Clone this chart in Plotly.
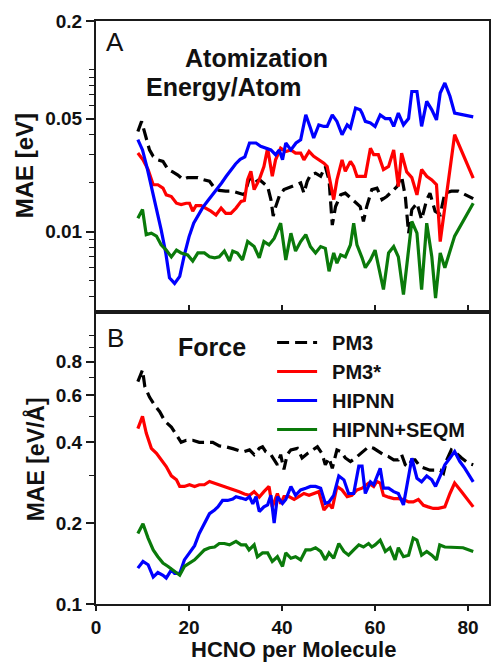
import plotly.graph_objects as go

# ---------------- data: panel A (Atomization energy / atom, eV) ----------------
a_pm3_x = [9, 9.8, 10.8, 11.5, 12.3, 13.3, 14.4, 15.5, 16.5, 17.6, 18.7, 19.7, 20.8, 21.9, 23, 24.4, 25.5,
           26.5, 27.9, 29.4, 30.8, 31.9, 33, 34, 35.1, 36.1, 36.9, 37.6, 38.1, 38.6, 39.4, 40.4, 41.9, 43,
           44, 44.7, 45.4, 46.1, 47.2, 48.3, 49.3, 50.1, 50.8, 51.5, 52.6, 53.6, 54.7, 55.8, 56.8, 57.5,
           58.2, 59.3, 60.4, 61.5, 62.5, 63.6, 64.7, 65.7, 66.5, 67.2, 67.9, 69, 70, 71.1, 71.8, 72.9, 74,
           75, 76.4, 77.9, 81.1]
a_pm3_y = [0.0416, 0.048, 0.0378, 0.032, 0.0292, 0.0278, 0.0272, 0.0242, 0.0234, 0.0224, 0.021, 0.0216,
           0.0216, 0.0216, 0.021, 0.0205, 0.0186, 0.018, 0.0178, 0.0178, 0.0173, 0.0169, 0.0215, 0.020,
           0.021, 0.020, 0.019, 0.0158, 0.0125, 0.0142, 0.0166, 0.0182, 0.019, 0.0195, 0.020, 0.0173,
           0.0204, 0.0224, 0.023, 0.022, 0.0253, 0.0209, 0.011, 0.0143, 0.0169, 0.0173, 0.0162, 0.015,
           0.0143, 0.0116, 0.0143, 0.0182, 0.0186, 0.0158, 0.0165, 0.0177, 0.019, 0.022, 0.0165, 0.0098,
           0.0137, 0.015, 0.0119, 0.0158, 0.0173, 0.0134, 0.0128, 0.0173, 0.0178, 0.0178, 0.0160]

a_pm3s_x = [9, 10.1, 11.2, 12.3, 13.3, 14.4, 15.1, 16.2, 17.3, 18.3, 19.4, 20.1, 20.8, 21.5, 22.6, 23.7,
            24.7, 25.8, 26.9, 27.9, 29, 30.1, 31.2, 31.9, 32.6, 33.3, 34, 35.1, 36.1, 36.9, 37.9, 38.6,
            39.7, 40.8, 41.9, 42.9, 44, 44.7, 45.8, 46.8, 47.9, 49, 49.7, 50.4, 51.1, 51.8, 52.9, 53.6,
            54.7, 55.4, 56.1, 57.9, 59, 59.7, 60.7, 61.8, 62.9, 64, 65, 65.7, 66.8, 67.9, 69, 70, 71.1,
            72.2, 73.2, 74, 77.1, 81.1]
a_pm3s_y = [0.0306, 0.0278, 0.0242, 0.0195, 0.0195, 0.0186, 0.0169, 0.0165, 0.015, 0.0147, 0.015, 0.015,
            0.0134, 0.0145, 0.0145, 0.014, 0.0134, 0.0127, 0.014, 0.013, 0.013, 0.014, 0.0154, 0.0156,
            0.021, 0.0236, 0.0182, 0.021, 0.0253, 0.0328, 0.022, 0.0278, 0.0328, 0.0313, 0.032, 0.0306,
            0.0306, 0.0278, 0.0313, 0.0292, 0.0278, 0.0265, 0.0253, 0.0195, 0.0158, 0.0209, 0.0278,
            0.0236, 0.0272, 0.0253, 0.022, 0.022, 0.0328, 0.0299, 0.0299, 0.0242, 0.0253, 0.032, 0.019,
            0.0306, 0.0234, 0.0216, 0.0169, 0.0242, 0.022, 0.0209, 0.0195, 0.0087, 0.0397, 0.0214]

a_hip_x = [9, 10, 11, 12, 13, 14, 15, 15.8, 16.9, 18, 19, 20, 21, 22, 23, 24, 25, 26, 27, 28, 29, 30, 31,
           32, 33, 34.4, 35.4, 36.5, 37.6, 38.6, 39.4, 40.1, 40.8, 41.9, 43, 44, 45.1, 46.1, 46.8, 47.9,
           49, 49.7, 50.8, 51.8, 52.9, 54, 54.7, 55.8, 56.8, 57.2, 57.9, 59, 60, 61.1, 62.2, 63.2, 64, 65,
           66.1, 67.2, 67.9, 69, 70, 71.1, 72.2, 73.2, 74, 75, 76.1, 77.1, 81.1]
a_hip_y = [0.037, 0.032, 0.0247, 0.0186, 0.014, 0.0103, 0.0074, 0.0052, 0.0048, 0.0053, 0.0072, 0.0093,
           0.0113, 0.0128, 0.0142, 0.0155, 0.0168, 0.0183, 0.020, 0.022, 0.024, 0.0262, 0.028, 0.029,
           0.0353, 0.0353, 0.0337, 0.033, 0.032, 0.0299, 0.032, 0.0278, 0.0353, 0.032, 0.0353, 0.037,
           0.0527, 0.0437, 0.0379, 0.0457, 0.0447, 0.0447, 0.0527, 0.048, 0.0397, 0.0457, 0.0437, 0.058,
           0.0566, 0.054, 0.048, 0.047, 0.0447, 0.0527, 0.050, 0.050, 0.0447, 0.054, 0.0457, 0.050,
           0.0734, 0.0734, 0.0447, 0.0638, 0.0566, 0.049, 0.0718, 0.0828, 0.0686, 0.054, 0.0512]

a_seq_x = [9, 10, 10.8, 11.9, 13, 14, 15.1, 16.2, 17.3, 18.3, 19.7, 20.8, 21.9, 23.3, 24.4, 25.5, 26.5,
           27.6, 28.7, 29.4, 30.4, 31.5, 32.6, 34, 35.1, 36.1, 37.2, 38.3, 39.7, 40.8, 41.9, 42.9, 44,
           45.1, 46.1, 47.2, 48.3, 49.3, 50.1, 51.1, 51.8, 52.6, 53.6, 54.7, 55.4, 56.1, 57.2, 57.9, 59,
           60, 61.8, 62.9, 64, 65, 66.1, 67.2, 67.9, 69, 70, 71.1, 72.2, 73, 74, 75, 77.1, 81.1]
a_seq_y = [0.0121, 0.0137, 0.0096, 0.0098, 0.0094, 0.0083, 0.0077, 0.007, 0.0077, 0.0074, 0.0072, 0.0066,
           0.0074, 0.0074, 0.007, 0.0069, 0.007, 0.0076, 0.0066, 0.0076, 0.0074, 0.0067, 0.0087, 0.0081,
           0.0069, 0.0087, 0.0083, 0.0091, 0.0113, 0.0067, 0.0098, 0.0076, 0.0087, 0.0096, 0.0081,
           0.0074, 0.0081, 0.0079, 0.0057, 0.0074, 0.0064, 0.0072, 0.007, 0.0083, 0.0113, 0.0083,
           0.0069, 0.006, 0.0067, 0.0077, 0.0044, 0.0074, 0.0081, 0.007, 0.0041, 0.0081, 0.0116, 0.0098,
           0.0044, 0.0113, 0.007, 0.0039, 0.0074, 0.006, 0.0094, 0.015]

# ---------------- data: panel B (Force, eV/Å) ----------------
b_pm3_x = [9, 10, 10.5, 11.5, 12.6, 13.7, 14.8, 16.2, 17.3, 18.3, 19.4, 20.8, 22.2, 23.7, 25.1, 26.5,
           27.9, 29.4, 30.8, 31.9, 33, 34, 35.1, 35.8, 36.5, 37.6, 38.3, 39, 39.7, 40.4, 41.1, 41.9, 43.3,
           44.3, 45.4, 46.5, 47.6, 48.6, 49.3, 50.1, 50.8, 51.8, 52.6, 53.6, 54.7, 55.8, 57.5, 58.6,
           59.7, 60.7, 61.8, 62.9, 64, 65, 65.7, 66.5, 67.2, 67.9, 68.6, 69.7, 70.7, 71.8, 72.9, 74,
           74.7, 75.4, 76.4, 77.1, 78.6, 80, 81.1]
b_pm3_y = [0.673, 0.744, 0.645, 0.59, 0.55, 0.52, 0.48, 0.456, 0.426, 0.40, 0.407, 0.407, 0.40, 0.40,
           0.40, 0.388, 0.385, 0.379, 0.372, 0.37, 0.375, 0.36, 0.38, 0.385, 0.369, 0.36, 0.344, 0.33,
           0.36, 0.317, 0.36, 0.375, 0.38, 0.35, 0.363, 0.375, 0.385, 0.363, 0.33, 0.35, 0.32, 0.375,
           0.37, 0.35, 0.339, 0.35, 0.369, 0.385, 0.38, 0.369, 0.36, 0.354, 0.344, 0.344, 0.36, 0.33,
           0.325, 0.344, 0.344, 0.325, 0.32, 0.315, 0.315, 0.315, 0.307, 0.344, 0.375, 0.369, 0.35,
           0.335, 0.33]

b_pm3s_x = [9, 10, 10.8, 11.9, 13, 14, 15.1, 16.2, 17.3, 18, 19, 20.1, 21.2, 22.2, 23.3, 24.4, 25.5,
            26.5, 27.6, 28.7, 29.7, 30.8, 31.9, 33, 34, 35.1, 36.1, 37.2, 37.9, 39, 39.7, 40.4, 41.5,
            42.6, 43.6, 44.7, 45.8, 46.8, 47.9, 49, 50.1, 50.8, 51.8, 52.9, 54, 55, 56.1, 57.2, 58.6,
            59.7, 60.4, 61.1, 61.8, 62.9, 64, 65, 66.1, 67.2, 68.2, 69.3, 70.4, 71.4, 72.5, 73.6, 75,
            76.1, 77.1, 78.6, 80, 81.1]
b_pm3s_y = [0.45, 0.50, 0.433, 0.38, 0.364, 0.345, 0.325, 0.30, 0.29, 0.274, 0.274, 0.278, 0.274, 0.278,
            0.278, 0.286, 0.282, 0.278, 0.274, 0.27, 0.266, 0.262, 0.257, 0.254, 0.262, 0.25, 0.262,
            0.274, 0.23, 0.258, 0.236, 0.251, 0.251, 0.245, 0.251, 0.258, 0.254, 0.258, 0.262, 0.224,
            0.236, 0.227, 0.274, 0.266, 0.251, 0.254, 0.266, 0.27, 0.282, 0.274, 0.286, 0.282, 0.254,
            0.25, 0.247, 0.247, 0.245, 0.24, 0.24, 0.245, 0.233, 0.23, 0.227, 0.227, 0.23, 0.258, 0.282,
            0.262, 0.245, 0.23]

b_hip_x = [9, 10.1, 11.2, 12.3, 13.3, 14.4, 15.1, 16.2, 16.9, 18, 19, 20.1, 21.2, 22.2, 23.3, 24.4, 25.5,
           26.2, 27.2, 28.3, 29.4, 30.1, 31.2, 32.2, 33, 33.7, 34.4, 35.1, 36.1, 36.9, 37.6, 38.3, 39,
           40.1, 40.8, 41.9, 42.9, 44, 45.1, 46.1, 47.2, 48.3, 49.3, 50.1, 51.1, 52.2, 53.3, 54.3, 55.4,
           56.5, 57.2, 57.9, 59, 59.7, 61.1, 61.8, 62.9, 64, 65, 66.1, 67.9, 69, 70, 71.1, 72.2, 73, 74,
           75, 76.1, 77.1, 78.2, 79.3, 81.1]
b_hip_y = [0.136, 0.144, 0.14, 0.126, 0.131, 0.128, 0.125, 0.134, 0.13, 0.13, 0.146, 0.156, 0.165, 0.183,
           0.2, 0.217, 0.224, 0.23, 0.243, 0.243, 0.246, 0.251, 0.248, 0.245, 0.251, 0.236, 0.251, 0.221,
           0.23, 0.234, 0.254, 0.2, 0.251, 0.237, 0.245, 0.274, 0.254, 0.266, 0.27, 0.274, 0.274, 0.27,
           0.237, 0.24, 0.254, 0.3, 0.29, 0.258, 0.258, 0.326, 0.326, 0.258, 0.285, 0.278, 0.32, 0.27,
           0.27, 0.262, 0.258, 0.234, 0.349, 0.294, 0.285, 0.3, 0.29, 0.274, 0.3, 0.33, 0.35, 0.37,
           0.34, 0.32, 0.285]

b_seq_x = [9, 10.1, 11.2, 12.3, 13.3, 14.4, 15.5, 16.5, 18, 19, 20.1, 21.2, 22.2, 23.3, 24.4, 25.5, 26.5,
           27.6, 28.7, 30.1, 31.2, 32.2, 32.9, 34, 34.7, 35.8, 36.9, 37.9, 39, 40.1, 40.8, 41.9, 42.9, 44,
           45.1, 46.1, 47.2, 48.3, 49.3, 50.1, 51.1, 52.2, 53.3, 54.3, 55.4, 56.5, 57.5, 58.6, 59.3, 60,
           61.1, 62.2, 63.2, 64.3, 65, 66.1, 67.2, 68.2, 69, 70, 71.1, 72.2, 73.2, 73.9, 75, 76.8, 78.9,
           81.1]
b_seq_y = [0.183, 0.199, 0.176, 0.159, 0.15, 0.142, 0.138, 0.134, 0.128, 0.138, 0.142, 0.146, 0.152, 0.159,
           0.162, 0.163, 0.168, 0.168, 0.166, 0.171, 0.166, 0.166, 0.159, 0.166, 0.15, 0.155, 0.155,
           0.144, 0.15, 0.138, 0.155, 0.148, 0.15, 0.146, 0.159, 0.159, 0.162, 0.157, 0.146, 0.155,
           0.148, 0.168, 0.157, 0.152, 0.159, 0.166, 0.163, 0.168, 0.163, 0.166, 0.173, 0.157, 0.162,
           0.146, 0.162, 0.15, 0.152, 0.176, 0.173, 0.152, 0.157, 0.152, 0.146, 0.166, 0.163, 0.163,
           0.162, 0.157]

series_names = ["PM3", "PM3*", "HIPNN", "HIPNN+SEQM"]
series_colors = ["#000000", "#ff0000", "#0000ff", "#0a7a0a"]
series_dash = ["12px,6px", "solid", "solid", "solid"]

x_ticks = [0, 20, 40, 60, 80]
a_ticks = [0.01, 0.05, 0.2]
a_minor = [0.004, 0.005, 0.006, 0.007, 0.008, 0.009, 0.02, 0.03, 0.04, 0.06, 0.07, 0.08, 0.09, 0.1]
b_ticks = [0.1, 0.2, 0.4, 0.6, 0.8]
b_minor = [0.3, 0.5, 0.7, 0.9, 1.0]

FONT = "Liberation Sans, Arial, Helvetica, sans-serif"
AX = "#1a1a1a"

fig = go.Figure()
panel_a = [(a_pm3_x, a_pm3_y), (a_pm3s_x, a_pm3s_y), (a_hip_x, a_hip_y), (a_seq_x, a_seq_y)]
panel_b = [(b_pm3_x, b_pm3_y), (b_pm3s_x, b_pm3s_y), (b_hip_x, b_hip_y), (b_seq_x, b_seq_y)]

for i, (xs, ys) in enumerate(panel_a):
    fig.add_trace(go.Scatter(x=xs, y=ys, mode="lines", xaxis="x", yaxis="y", showlegend=False,
                             name=series_names[i],
                             line=dict(color=series_colors[i], width=3.2, dash=series_dash[i])))
for i, (xs, ys) in enumerate(panel_b):
    fig.add_trace(go.Scatter(x=xs, y=ys, mode="lines", xaxis="x2", yaxis="y2", showlegend=True,
                             name="\u2002" + series_names[i], legendgroup="g%d" % i,
                             line=dict(color=series_colors[i], width=3.2, dash=series_dash[i])))

W, H = 491, 662
ML, MR, MT, MB = 96, 0, 21, 58
PW, PH = W - ML - MR, H - MT - MB


def px(x):
    return (x - ML) / PW


def py(y):
    return (H - MB - y) / PH


common_axis = dict(showline=True, linecolor=AX, linewidth=2, mirror=True, showgrid=False,
                   zeroline=False, tickcolor=AX, tickwidth=1.5,
                   tickfont=dict(family=FONT, size=19, color="#111", weight="bold"))

top_bottom_px = 310
bot_top_px = 314
a_dom = [py(top_bottom_px), 1.0]
b_dom = [0.0, py(bot_top_px)]
x_max = 84.49

fig.update_layout(
    width=W, height=H, margin=dict(l=ML, r=MR, t=MT, b=MB),
    paper_bgcolor="white", plot_bgcolor="white",
    xaxis=dict(domain=[0, 1], range=[0, x_max], anchor="y", tickvals=x_ticks[1:],
               showticklabels=False, ticks="inside", ticklen=5, **common_axis),
    yaxis=dict(domain=a_dom, type="log", range=[-2.483, -0.699], anchor="x",
               tickvals=a_ticks, ticktext=[str(v) for v in a_ticks], ticks="outside", ticklen=8,
               minor=dict(tickmode="array", tickvals=a_minor, ticks="outside", ticklen=5,
                          tickcolor=AX, tickwidth=1.2),
               **common_axis),
    xaxis2=dict(domain=[0, 1], range=[0, x_max], anchor="y2", tickvals=x_ticks,
                ticktext=[str(v) for v in x_ticks], ticks="outside", ticklen=5, **common_axis),
    yaxis2=dict(domain=b_dom, type="log", range=[-1, -1 + (H - MB - bot_top_px) / 268.5], anchor="x2",
                tickvals=b_ticks, ticktext=[str(v) for v in b_ticks], ticks="outside", ticklen=8,
                minor=dict(tickmode="array", tickvals=b_minor, ticks="outside", ticklen=5,
                           tickcolor=AX, tickwidth=1.2),
                **common_axis),
    legend=dict(x=px(273), y=py(323), xanchor="left", yanchor="top", bgcolor="rgba(0,0,0,0)",
                font=dict(family=FONT, size=20, color="#111", weight="bold"), tracegroupgap=0,
                itemwidth=40),
    showlegend=True,
)


def note(text, x, y, size, bold=True, angle=0, xanchor="center"):
    fig.add_annotation(text=text, x=px(x), y=py(y), xref="paper", yref="paper", showarrow=False,
                       xanchor=xanchor, yanchor="middle", textangle=angle,
                       font=dict(family=FONT, size=size, color="#111",
                                 weight="bold" if bold else "normal"))


note("A", 115, 42, 26, bold=False)
note("Atomization", 257, 58, 25)
note("Energy/Atom", 225, 87, 25)
note("B", 115.5, 338, 26, bold=False)
note("Force", 213, 347, 25)
note("MAE [eV]", 24, 166, 24, angle=-90)
note("MAE [eV/Å]", 35, 459, 23, angle=-90)
note("HCNO per Molecule", 295, 649.5, 22)

fig.write_html("out.html")
